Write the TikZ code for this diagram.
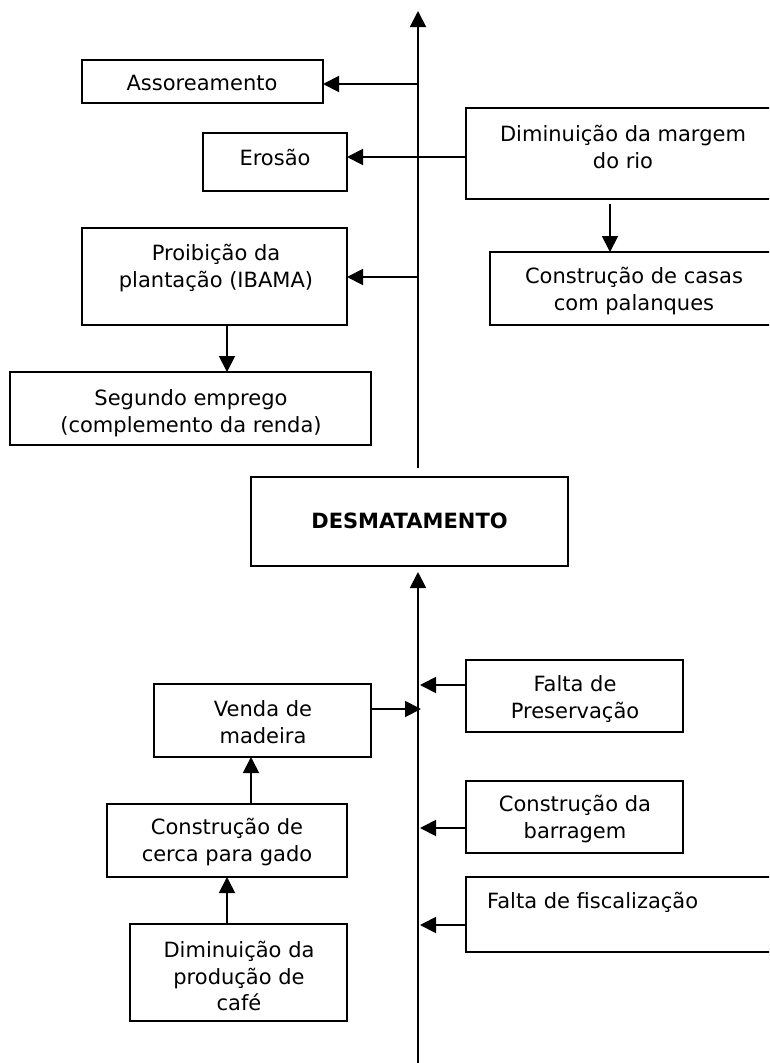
\documentclass[tikz,border=0pt]{standalone}
\usepackage{fontspec}
\setmainfont{DejaVu Sans}
\usetikzlibrary{arrows.meta,calc}
\begin{document}
\begin{tikzpicture}[x=1pt,y=-1pt,
  lw/.style={line width=1.9pt},
  bx/.style={draw,lw,anchor=north west,inner sep=0pt,outer sep=0pt},
  tx/.style={font=\fontsize{21}{26.5}\selectfont,align=center,inner sep=0pt},
  arr/.style={lw,-{Triangle[length=16pt,width=16pt]}},
  ln/.style={lw}]
\useasboundingbox[fill=white] (0,0) rectangle (769,1063);
\clip (0,0) rectangle (769,1063);
% boxes: corner + size
\newcommand{\mybox}[5]{\node[bx,minimum width=#4-#2,minimum height=#5-#3] (#1) at (#2,#3) {};}
\mybox{assor}{82}{60}{323}{103}
\mybox{erosao}{203}{133}{347}{191}
\mybox{dimmargem}{466}{108}{780}{199}
\mybox{casas}{490}{252}{778}{325}
\mybox{proib}{82}{228}{347}{325}
\mybox{segundo}{10}{372}{371}{445}
\mybox{desmat}{251}{477}{568}{566}
\mybox{faltapres}{466}{660}{683}{732}
\mybox{venda}{154}{684}{371}{757}
\mybox{barragem}{466}{781}{683}{853}
\mybox{fiscal}{466}{877}{780}{952}
\mybox{cerca}{107}{804}{347}{877}
\mybox{producao}{130}{924}{347}{1021}
% texts
\node[tx] (assorT) at (202,83) {Assoreamento};
\node[tx] (erosaoT) at (275,157) {Erosão};
\node[tx] (dimmargemT) at (623,147) {Diminuição da margem\\do rio};
\node[tx] (casasT) at (634,291) {Construção de casas\\com palanques};
\node[tx] (proibT) at (216,268) {Proibição da\\plantação (IBAMA)};
\node[tx] (segundoT) at (191,413) {Segundo emprego\\(complemento da renda)};
\node[tx,font=\fontsize{21}{26.5}\selectfont\bfseries] (desmatT) at (409.5,521) {DESMATAMENTO};
\node[tx] (faltapresT) at (575,699) {Falta de\\Preservação};
\node[tx] (vendaT) at (263,722) {Venda de\\madeira};
\node[tx] (barragemT) at (575,819) {Construção da\\barragem};
\node[tx,anchor=west] (fiscalT) at (487,902) {Falta de fiscalização};
\node[tx] (cercaT) at (227,842) {Construção de\\cerca para gado};
\node[tx] (producaoT) at (239,976) {Diminuição da\\produção de\\café};
% trunk coordinates
\coordinate (topS) at (418,468);
\coordinate (topE) at (418,11);
\coordinate (j1) at (418,84);
\coordinate (j2) at (418,157);
\coordinate (j3) at (418,277);
\coordinate (botS) at (418,1063);
\coordinate (botE) at (418,572);
\coordinate (k1) at (420,685);
\coordinate (k2) at (421,709);
\coordinate (k3) at (420,828);
\coordinate (k4) at (420,925);
\coordinate (dmA) at (610,204);
\coordinate (pA) at (227,325);
\coordinate (cA) at (251,804);
\coordinate (prA) at (227,924);
% connectors
\draw[arr] (topS) -- (topE);
\draw[arr] (j1) -- (assor.east |- j1);
\draw[arr] (dimmargem.west |- j2) -- (erosao.east |- j2);
\draw[arr] (j3) -- (proib.east |- j3);
\draw[arr] (dmA) -- (casas.north -| dmA);
\draw[arr] (pA) -- (segundo.north -| pA);
\draw[arr] (botS) -- (botE);
\draw[arr] (faltapres.west |- k1) -- (k1);
\draw[arr] (venda.east |- k2) -- (k2);
\draw[arr] (barragem.west |- k3) -- (k3);
\draw[arr] (fiscal.west |- k4) -- (k4);
\draw[arr] (cA) -- (venda.south -| cA);
\draw[arr] (prA) -- (cerca.south -| prA);
\end{tikzpicture}
\end{document}
